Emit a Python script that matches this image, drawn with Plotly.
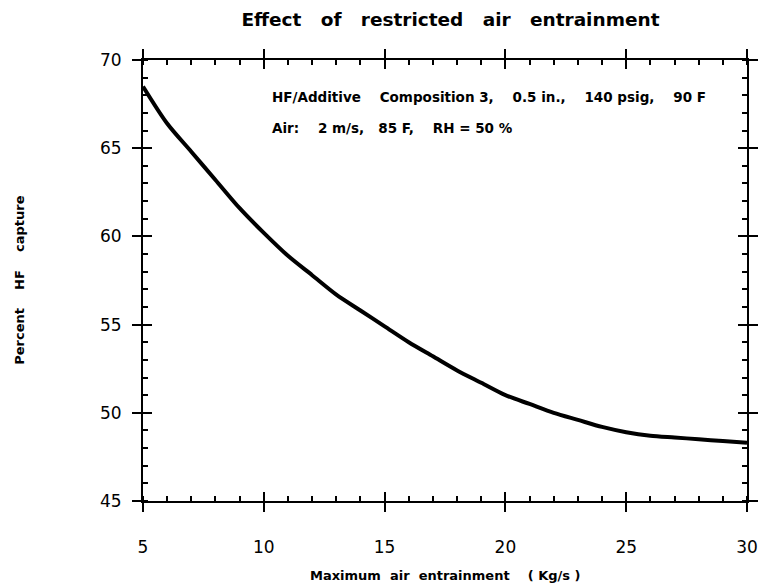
import plotly.graph_objects as go

# Data
air_entrainment = [5, 6, 7, 8, 9, 10, 11, 12, 13, 14, 15, 16, 17, 18, 19, 20,
                   21, 22, 23, 24, 25, 26, 27, 28, 29, 30]
hf_capture = [68.5, 66.4, 64.8, 63.2, 61.6, 60.2, 58.9, 57.8, 56.7, 55.8, 54.9,
              54.0, 53.2, 52.4, 51.7, 51.0, 50.5, 50.0, 49.6, 49.2, 48.9, 48.7,
              48.6, 48.5, 48.4, 48.3]
x_ticks = [5, 10, 15, 20, 25, 30]
y_ticks = [45, 50, 55, 60, 65, 70]

FONT = "DejaVu Sans"

fig = go.Figure()
fig.add_trace(go.Scatter(x=air_entrainment, y=hf_capture, mode="lines",
                         line=dict(color="black", width=4, shape="spline",
                                   smoothing=0.8),
                         showlegend=False, hoverinfo="skip"))
# invisible trace to host the overlay axes (inner half of the crossing major ticks)
fig.add_trace(go.Scatter(x=air_entrainment, y=hf_capture, mode="lines",
                         xaxis="x2", yaxis="y2", opacity=0,
                         line=dict(color="black", width=1), showlegend=False,
                         hoverinfo="skip"))

axis_common = dict(showgrid=False, zeroline=False, showline=True,
                   linecolor="black", linewidth=2, mirror="ticks",
                   tickcolor="black", tickwidth=2, ticklen=9)

fig.update_layout(
    width=770, height=583,
    margin=dict(l=143, r=12, t=60, b=82),
    paper_bgcolor="white", plot_bgcolor="white",
    font=dict(family=FONT, color="black"),
    title=dict(text="Effect   of   restricted   air   entrainment",
               x=0.585, xanchor="center", y=1 - 20 / 583, yanchor="middle",
               font=dict(family=FONT, size=18.5, weight="bold", color="black")),
    xaxis=dict(range=[5, 30], tickmode="array", tickvals=x_ticks,
               ticktext=[str(v) for v in x_ticks], ticks="outside",
               ticklabelstandoff=21,
               tickfont=dict(family=FONT, size=17, color="black"),
               minor=dict(ticks="inside", dtick=1, tick0=5, ticklen=5,
                          tickwidth=1.5, tickcolor="black", showgrid=False),
               **axis_common),
    yaxis=dict(range=[45, 70], tickmode="array", tickvals=y_ticks,
               ticktext=[str(v) for v in y_ticks], ticks="outside",
               ticklabelstandoff=7,
               tickfont=dict(family=FONT, size=17, color="black"),
               minor=dict(ticks="inside", dtick=1, tick0=45, ticklen=5,
                          tickwidth=1.5, tickcolor="black", showgrid=False),
               **axis_common),
    xaxis2=dict(range=[5, 30], overlaying="x", anchor="y2", side="bottom",
                tickmode="array", tickvals=x_ticks, ticks="inside",
                showticklabels=False, **axis_common),
    yaxis2=dict(range=[45, 70], overlaying="y", anchor="x2", side="left",
                tickmode="array", tickvals=y_ticks, ticks="inside",
                showticklabels=False, **axis_common),
    annotations=[
        dict(text="HF/Additive    Composition 3,    0.5 in.,    140 psig,    90 F",
             xref="paper", yref="paper", x=(272 - 143) / 615, y=(501 - 96.7) / 441,
             xanchor="left", yanchor="middle", showarrow=False,
             font=dict(family=FONT, size=13.5, weight="bold", color="black")),
        dict(text="Air:    2 m/s,   85 F,    RH = 50 %",
             xref="paper", yref="paper", x=(272 - 143) / 615, y=(501 - 128) / 441,
             xanchor="left", yanchor="middle", showarrow=False,
             font=dict(family=FONT, size=13.5, weight="bold", color="black")),
        dict(text="Maximum  air  entrainment    ( Kg/s )",
             xref="paper", yref="paper", x=0.5, y=(501 - 575) / 441,
             xanchor="center", yanchor="middle", showarrow=False,
             font=dict(family=FONT, size=13, weight="bold", color="black")),
        dict(text="Percent    HF    capture",
             xref="paper", yref="paper", x=(17 - 143) / 615, y=0.5,
             xanchor="center", yanchor="middle", showarrow=False, textangle=-90,
             font=dict(family=FONT, size=13, weight="bold", color="black")),
    ],
)

fig.write_html("out.html")
